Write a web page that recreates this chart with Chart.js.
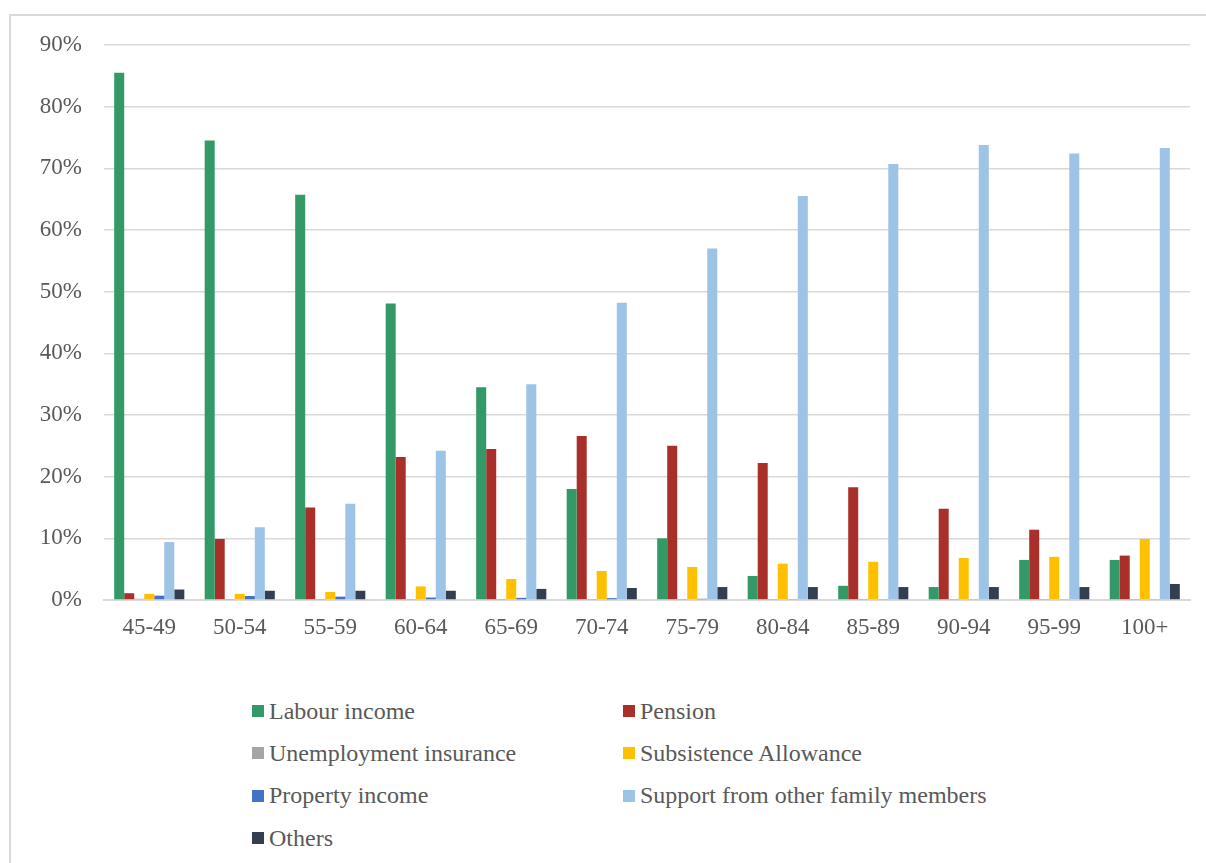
<!DOCTYPE html>
<html>
<head>
<meta charset="utf-8">
<script src="https://cdn.jsdelivr.net/npm/chart.js@4/dist/chart.umd.min.js"></script>
<style>
  html, body { margin: 0; padding: 0; background: #fff; overflow: hidden; }
  body { width: 1206px; height: 863px; position: relative; font-family: "Liberation Serif", "Times New Roman", serif; }
  .frame { position: absolute; left: 9px; top: 14px; width: 1400px; height: 1000px; border: 2px solid #d9d9d9; }
  .chart-box { position: absolute; left: 0; top: 0; width: 1206px; height: 660px; }
  .legend { position: absolute; left: 252px; top: 690px; display: grid; grid-template-columns: 371px 371px; }
  .legend-item { height: 42.3px; display: flex; align-items: center; font-size: 24px; color: #595959; white-space: nowrap; }
  .legend-item span.box { width: 12px; height: 12px; margin-right: 5px; flex: none; }
</style>
</head>
<body>
<div class="frame"></div>
<div class="chart-box"><canvas id="incomeChart"></canvas></div>
<div class="legend" id="legend"></div>

<script>
// age groups
const ageGroups = ['45-49', '50-54', '55-59', '60-64', '65-69', '70-74', '75-79', '80-84', '85-89', '90-94', '95-99', '100+'];

// share of people by main source of income, in %
const labourIncome = [85.5, 74.5, 65.7, 48.1, 34.5, 18.0, 10.0, 3.9, 2.3, 2.1, 6.5, 6.5];
const pension = [1.1, 9.9, 15.0, 23.2, 24.5, 26.6, 25.0, 22.2, 18.3, 14.8, 11.4, 7.2];
const unemploymentInsurance = [0.2, 0.05, 0.05, 0.05, 0.05, 0.05, 0.05, 0.05, 0.05, 0.05, 0.05, 0.05];
const subsistenceAllowance = [1.0, 1.0, 1.3, 2.2, 3.4, 4.7, 5.35, 5.9, 6.2, 6.8, 7.0, 9.9];
const propertyIncome = [0.7, 0.65, 0.55, 0.4, 0.35, 0.3, 0.2, 0.15, 0.15, 0.1, 0.1, 0.1];
const familySupport = [9.4, 11.8, 15.6, 24.2, 35.0, 48.2, 57.0, 65.5, 70.7, 73.8, 72.4, 73.3];
const others = [1.7, 1.5, 1.5, 1.5, 1.8, 1.95, 2.1, 2.1, 2.1, 2.1, 2.1, 2.6];

const yTicks = [0, 10, 20, 30, 40, 50, 60, 70, 80, 90];

const series = [
  { label: 'Labour income', data: labourIncome, color: '#339966' },
  { label: 'Pension', data: pension, color: '#A9302A' },
  { label: 'Unemployment insurance', data: unemploymentInsurance, color: '#A5A5A5' },
  { label: 'Subsistence Allowance', data: subsistenceAllowance, color: '#FFC000' },
  { label: 'Property income', data: propertyIncome, color: '#4472C4' },
  { label: 'Support from other family members', data: familySupport, color: '#9DC3E6' },
  { label: 'Others', data: others, color: '#333F50' }
];

const FONT = '"Liberation Serif", "Times New Roman", serif';
const GRID = '#d9d9d9';

const chart = new Chart(document.getElementById('incomeChart'), {
  type: 'bar',
  data: {
    labels: ageGroups,
    datasets: series.map(s => ({
      label: s.label,
      data: s.data,
      backgroundColor: s.color,
      categoryPercentage: 0.775,
      barPercentage: 1.0
    }))
  },
  options: {
    responsive: true,
    maintainAspectRatio: false,
    animation: false,
    layout: { padding: { left: 0, right: 16, top: 45, bottom: 0 } },
    plugins: {
      legend: { display: false },
      tooltip: { enabled: false }
    },
    scales: {
      x: {
        grid: { display: false, drawTicks: false },
        border: { display: true, color: GRID, width: 2 },
        ticks: { color: '#595959', font: { family: FONT, size: 23 }, padding: 14 },
        afterFit: (scale) => { scale.height = 60; }
      },
      y: {
        min: 0,
        max: 90,
        afterBuildTicks: (scale) => { scale.ticks = yTicks.map(v => ({ value: v })); },
        grid: { color: GRID, lineWidth: 1.5, drawTicks: false },
        border: { display: false },
        ticks: {
          color: '#595959',
          font: { family: FONT, size: 23 },
          padding: 22,
          callback: (v) => v + '%'
        },
        afterFit: (scale) => { scale.width = 104; }
      }
    }
  }
});

// two-column legend like the original
const legendEl = document.getElementById('legend');
chart.data.datasets.forEach(ds => {
  const item = document.createElement('div');
  item.className = 'legend-item';
  item.innerHTML = '<span class="box" style="background:' + ds.backgroundColor + '"></span>' + ds.label;
  legendEl.appendChild(item);
});
</script>
</body>
</html>
